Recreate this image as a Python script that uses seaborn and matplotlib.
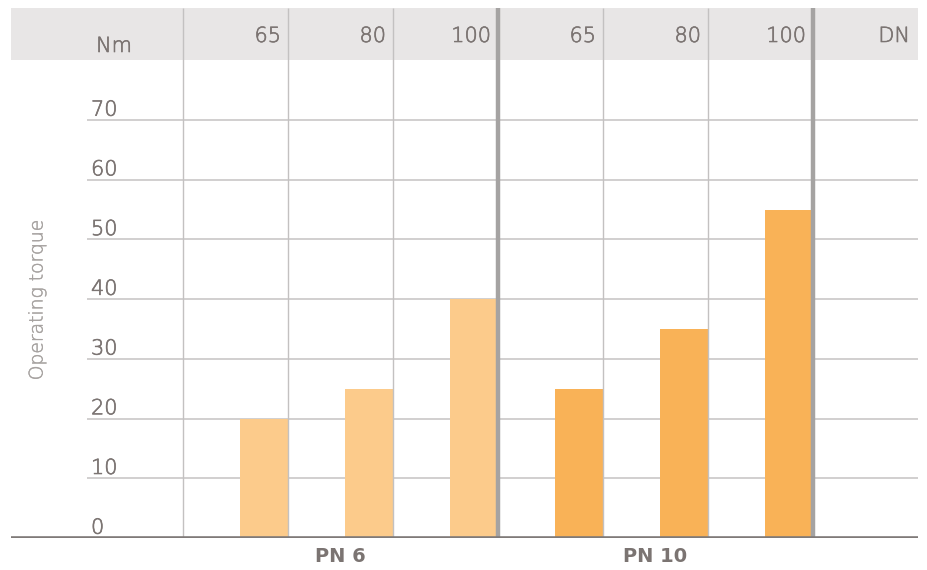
import matplotlib
matplotlib.use("Agg")
import matplotlib.pyplot as plt
import matplotlib.patheffects as pe
import seaborn as sns
import pandas as pd
import numpy as np
from matplotlib.patches import Rectangle

# Data
groups = ["PN 6", "PN 6", "PN 6", "PN 10", "PN 10", "PN 10"]
sizes = ["65", "80", "100", "65", "80", "100"]
torque = [20, 25, 40, 25, 35, 55]
y_ticks = [0, 10, 20, 30, 40, 50, 60, 70]
group_labels = ["PN 6", "PN 10"]
palette = {"PN 6": "#fccb8b", "PN 10": "#f9b257"}

df = pd.DataFrame({"slot": [f"{g} {s}" for g, s in zip(groups, sizes)],
                   "group": groups, "size": sizes, "torque": torque})

sns.set_theme(style="white")
plt.rcParams["font.family"] = ["DejaVu Sans"]

W, H = 928, 570
fig = plt.figure(figsize=(W / 100, H / 100), dpi=100)

# axes spans the full table width; y=0 sits on the heavy baseline
px_left, px_right, px_base, px_top = 11, 918, 538, 8
ax = fig.add_axes([px_left / W, (H - px_base) / H,
                   (px_right - px_left) / W, (px_base - px_top) / H])

col_w = 105.0                      # pixels per size column
bar_w = 48 / col_w                 # bar width in column units
unit = (538 - 120) / 70.0          # pixels per Nm
ytop = (px_base - px_top) / unit
x_first = -1 + bar_w / 2           # left edge of the first size column
xlim_left = x_first - (183 - px_left) / col_w
xlim_right = x_first + (px_right - 183) / col_w

text_c = "#7b7472"
grid_c = "#c9c7c7"
light = dict(fontweight="light",
             path_effects=[pe.withStroke(linewidth=0.45, foreground=text_c)])

# bars
sns.barplot(data=df, x="slot", y="torque", hue="group", palette=palette,
            width=bar_w, dodge=False, legend=False, saturation=1,
            linewidth=0, ax=ax)
for p in ax.patches:
    p.set_zorder(2)
ax.set_xlim(xlim_left, xlim_right)
ax.set_ylim(0, ytop)
ax.axis("off")

# header band
hdr_bottom = (px_base - 60) / unit
ax.add_patch(Rectangle((xlim_left, hdr_bottom), xlim_right - xlim_left,
                       ytop - hdr_bottom, facecolor="#e8e6e6",
                       edgecolor="none", zorder=0))

# horizontal gridlines with their labels sitting above
grid_left = x_first - (183 - 87) / col_w
for v in y_ticks[1:]:
    ax.plot([grid_left, xlim_right], [v, v], color=grid_c, lw=1.2, zorder=1,
            solid_capstyle="butt")
for v in y_ticks:
    ax.text(grid_left + 4 / col_w, v + 0.05, str(v), ha="left", va="bottom",
            fontsize=15, color=text_c, zorder=3, **light)

# column separators: thin inside a group, heavy between groups
n = len(sizes)
edges = [x_first + i for i in range(n + 1)]
for i, xe in enumerate(edges):
    heavy = i in (3, 6)
    ax.plot([xe, xe], [0, ytop], color="#a5a3a2" if heavy else "#c3c1c1",
            lw=3.2 if heavy else 1.0, zorder=4, solid_capstyle="butt")

# baseline
ax.plot([xlim_left, xlim_right], [0, 0], color="#7f7a78", lw=2.6, zorder=5,
        solid_capstyle="butt")

# header labels
hdr_y = (px_base - 36) / unit
for i, s in enumerate(sizes):
    ax.text(x_first + i + 1 - 7 / col_w, hdr_y, s, ha="right", va="center",
            fontsize=15, color=text_c, zorder=6, **light)
ax.text(x_first + n + 1 - 8 / col_w, hdr_y, "DN", ha="right", va="center",
        fontsize=15, color=text_c, zorder=6, **light)
ax.text(x_first - (183 - 114) / col_w, (px_base - 46) / unit, "Nm",
        ha="center", va="center", fontsize=15, color=text_c, zorder=6, **light)

# group labels under the baseline
for g_i, g in enumerate(group_labels):
    cx = x_first + 3 * g_i + 1.5
    ax.text(cx, -18 / unit, g, ha="center", va="center", fontsize=14,
            fontweight="bold", color=text_c, clip_on=False)

# axis title
fig.text(37 / W, (H - 300) / H, "Operating torque", rotation=90,
         ha="center", va="center", fontsize=13.5, color="#a6a2a0",
         fontweight="light",
         path_effects=[pe.withStroke(linewidth=0.3, foreground="#a6a2a0")])

fig.savefig("out.png", dpi=100)
